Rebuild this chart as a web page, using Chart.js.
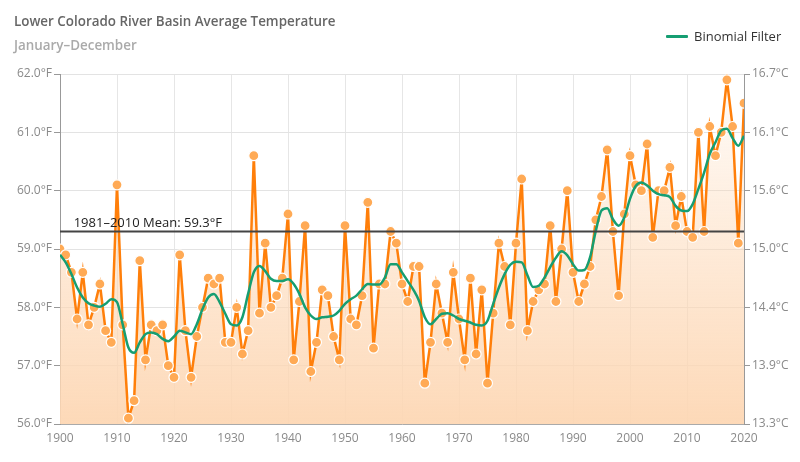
<!DOCTYPE html>
<html>
<head>
<meta charset="utf-8">
<script src="https://cdn.jsdelivr.net/npm/chart.js@4"></script>
<style>
  html, body { margin: 0; padding: 0; background: #fff; }
  #wrap { position: relative; width: 800px; height: 462px; font-family: "Open Sans", sans-serif; }
  #c { position: absolute; left: 0; top: 0; }
  .title { position: absolute; left: 14px; top: 12px; font-size: 13.4px; font-weight: 600; color: #666; white-space: nowrap; }
  .subtitle { position: absolute; left: 14px; top: 36px; font-size: 13.4px; font-weight: 600; color: #aaa; white-space: nowrap; }
  .legend { position: absolute; left: 666px; top: 27px; font-size: 13px; color: #333; white-space: nowrap; display: flex; align-items: center; }
  .legend .sw { display: inline-block; width: 22px; height: 3px; background: #169e72; margin-right: 6px; border-radius: 1px; }
</style>
</head>
<body>
<div id="wrap">
  <canvas id="c" width="800" height="462"></canvas>
  <div class="title">Lower Colorado River Basin Average Temperature</div>
  <div class="subtitle">January–December</div>
  <div class="legend"><span class="sw"></span>Binomial Filter</div>
</div>
<script>
const years = Array.from({length: 121}, (_, i) => 1900 + i);
const temps = [
  59.0, 58.9, 58.6, 57.8, 58.6, 57.7, 58.0, 58.4, 57.6, 57.4,
  60.1, 57.7, 56.1, 56.4, 58.8, 57.1, 57.7, 57.6, 57.7, 57.0,
  56.8, 58.9, 57.6, 56.8, 57.5, 58.0, 58.5, 58.4, 58.5, 57.4,
  57.4, 58.0, 57.2, 57.6, 60.6, 57.9, 59.1, 58.0, 58.2, 58.5,
  59.6, 57.1, 58.1, 59.4, 56.9, 57.4, 58.3, 58.2, 57.5, 57.1,
  59.4, 57.8, 57.7, 58.2, 59.8, 57.3, 58.4, 58.4, 59.3, 59.1,
  58.4, 58.1, 58.7, 58.7, 56.7, 57.4, 58.4, 57.9, 57.4, 58.6,
  57.8, 57.1, 58.5, 57.2, 58.3, 56.7, 57.9, 59.1, 58.7, 57.7,
  59.1, 60.2, 57.6, 58.1, 58.3, 58.4, 59.4, 58.1, 59.0, 60.0,
  58.6, 58.1, 58.4, 58.7, 59.5, 59.9, 60.7, 59.3, 58.2, 59.6,
  60.6, 60.1, 60.0, 60.8, 59.2, 60.0, 60.0, 60.4, 59.4, 59.9,
  59.3, 59.2, 61.0, 59.3, 61.1, 60.6, 61.0, 61.9, 61.1, 59.1,
  61.5
];
const binomialFilter = [
  58.90, 58.77, 58.57, 58.34, 58.17, 58.07, 58.03, 58.01, 58.06, 58.14,
  58.09, 57.71, 57.31, 57.22, 57.40, 57.54, 57.57, 57.54, 57.46, 57.42,
  57.50, 57.60, 57.57, 57.54, 57.71, 57.97, 58.17, 58.23, 58.09, 57.89,
  57.71, 57.69, 57.83, 58.23, 58.60, 58.71, 58.62, 58.49, 58.45, 58.45,
  58.48, 58.40, 58.23, 58.00, 57.86, 57.80, 57.83, 57.84, 57.86, 57.94,
  58.06, 58.14, 58.20, 58.31, 58.40, 58.39, 58.39, 58.51, 58.74, 58.74,
  58.60, 58.45, 58.30, 58.11, 57.83, 57.71, 57.80, 57.89, 57.90, 57.86,
  57.80, 57.77, 57.74, 57.70, 57.69, 57.77, 58.06, 58.34, 58.57, 58.73,
  58.78, 58.77, 58.55, 58.35, 58.37, 58.51, 58.69, 58.85, 58.96, 58.89,
  58.74, 58.63, 58.64, 58.86, 59.31, 59.66, 59.70, 59.51, 59.40, 59.54,
  59.86, 60.08, 60.14, 60.09, 60.00, 59.94, 59.92, 59.89, 59.74, 59.66,
  59.65, 59.77, 60.03, 60.31, 60.63, 60.83, 61.03, 61.06, 60.90, 60.77,
  60.94
];
const meanValue = 59.3;
const meanLabel = "1981–2010 Mean: 59.3°F";
const xRange = [1900, 2020];
const yRange = [56, 62];

const tempPts = years.map((y, i) => ({x: y, y: temps[i]}));
const filtPts = years.map((y, i) => ({x: y, y: binomialFilter[i]}));
const meanPts = [{x: xRange[0], y: meanValue}, {x: xRange[1], y: meanValue}];

const meanLabelPlugin = {
  id: 'meanLabel',
  afterDatasetsDraw(chart) {
    const ctx = chart.ctx;
    const xs = chart.scales.x, ys = chart.scales.y;
    ctx.save();
    ctx.font = '13px "Open Sans", sans-serif';
    ctx.fillStyle = '#222';
    ctx.textBaseline = 'alphabetic';
    ctx.fillText(meanLabel, xs.getPixelForValue(1902.4), ys.getPixelForValue(meanValue) - 5);
    ctx.restore();
  }
};

const ctx = document.getElementById('c').getContext('2d');
new Chart(ctx, {
  type: 'line',
  data: {
    datasets: [
      {
        label: 'Mean',
        data: meanPts,
        borderColor: '#444',
        borderWidth: 2,
        pointRadius: 0,
        fill: false,
        order: 1
      },
      {
        label: 'Binomial Filter',
        data: filtPts,
        borderColor: '#169e72',
        borderWidth: 2.5,
        pointRadius: 0,
        cubicInterpolationMode: 'monotone',
        fill: false,
        order: 2
      },
      {
        label: 'Temperature',
        data: tempPts,
        borderColor: '#ff7f0a',
        borderWidth: 2.5,
        pointRadius: 5,
        pointBackgroundColor: '#ffaa55',
        pointBorderColor: '#fff',
        pointBorderWidth: 1.2,
        tension: 0,
        fill: 'start',
        backgroundColor: (c) => {
          const ca = c.chart.chartArea;
          if (!ca) return 'rgba(253,215,180,0.5)';
          const g = c.chart.ctx.createLinearGradient(0, ca.top, 0, ca.bottom);
          g.addColorStop(0, 'rgba(253,215,180,0.08)');
          g.addColorStop(1, 'rgba(253,215,180,0.95)');
          return g;
        },
        order: 3
      }
    ]
  },
  options: {
    responsive: false,
    animation: false,
    events: [],
    layout: { padding: { top: 74, left: 0, right: 0, bottom: 0 } },
    plugins: {
      legend: { display: false },
      title: { display: false },
      tooltip: { enabled: false }
    },
    scales: {
      x: {
        type: 'linear',
        min: xRange[0], max: xRange[1],
        ticks: {
          stepSize: 10,
          color: '#8a8a8a',
          font: { family: '"Open Sans", sans-serif', size: 12 },
          padding: 7,
          callback: (v) => String(v)
        },
        grid: { color: '#e6e6e6', drawTicks: false },
        border: { color: '#aaa', width: 1 },
        afterFit: (s) => { s.height = 38; }
      },
      y: {
        position: 'left',
        min: yRange[0], max: yRange[1],
        ticks: {
          stepSize: 1,
          color: '#8a8a8a',
          font: { family: '"Open Sans", sans-serif', size: 12 },
          padding: 2,
          callback: (v) => v.toFixed(1) + '°F'
        },
        grid: { color: '#e3e3e3', tickColor: '#999', tickLength: 6 },
        border: { color: '#999', width: 1 },
        afterFit: (s) => { s.width = 60; }
      },
      y2: {
        position: 'right',
        min: yRange[0], max: yRange[1],
        ticks: {
          stepSize: 1,
          color: '#8a8a8a',
          font: { family: '"Open Sans", sans-serif', size: 12 },
          padding: 2,
          callback: (v) => ((v - 32) * 5 / 9).toFixed(1) + '°C'
        },
        grid: { drawOnChartArea: false, tickColor: '#999', tickLength: 6 },
        border: { color: '#999', width: 1 },
        afterFit: (s) => { s.width = 56; }
      }
    }
  },
  plugins: [meanLabelPlugin]
});
</script>
</body>
</html>
